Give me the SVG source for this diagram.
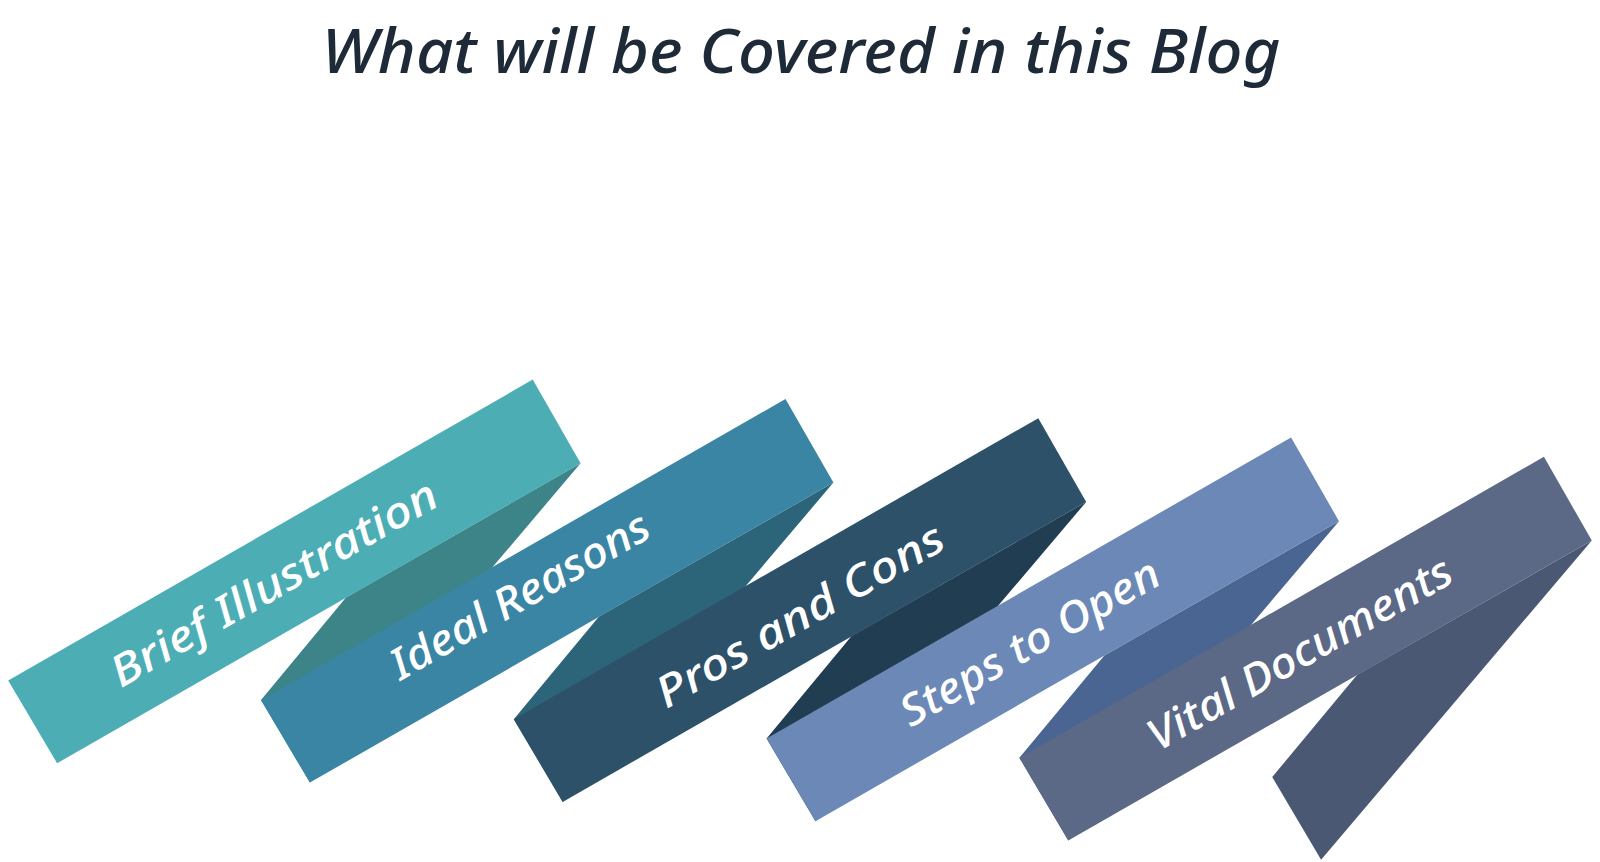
<svg xmlns="http://www.w3.org/2000/svg" width="1600" height="862" viewBox="0 0 1600 862">
<defs>
<style>
.title{font-family:"Noto Sans","DejaVu Sans",sans-serif;font-style:italic;font-weight:500;font-size:62px;fill:#1E2A38;}
.lbl{font-family:"Noto Sans","DejaVu Sans",sans-serif;font-style:italic;font-weight:500;font-size:43px;fill:#FFFFFF;text-anchor:middle;dominant-baseline:central;}
</style>
<polygon id="face" points="8.2,680.6 532.7,379.6 580.6,463.3 57.1,763.3"/>
<polygon id="tail" points="580.6,463.3 346,597.5 261,699.9 309.9,782.6"/>
</defs>
<rect width="1600" height="862" fill="#FFFFFF"/>
<text class="title" x="801" y="73" text-anchor="middle" textLength="959" lengthAdjust="spacingAndGlyphs">What will be Covered in this Blog</text>

<g id="ribbon1">
<use href="#tail" fill="#3D8489"/>
<use href="#face" fill="#4DADB5"/>
<text class="lbl" transform="translate(273,582) rotate(-29.85)" textLength="370" lengthAdjust="spacingAndGlyphs">Brief Illustration</text>
</g>
<g id="ribbon2">
<use href="#tail" fill="#2C6479" transform="translate(252.8,19.3)"/>
<use href="#face" fill="#3A85A4" transform="translate(252.8,19.3)"/>
<text class="lbl" transform="translate(519,594) rotate(-29.85)" textLength="292" lengthAdjust="spacingAndGlyphs">Ideal Reasons</text>
</g>
<g id="ribbon3">
<use href="#tail" fill="#213D51" transform="translate(505.6,38.6)"/>
<use href="#face" fill="#2D5169" transform="translate(505.6,38.6)"/>
<text class="lbl" transform="translate(799,614) rotate(-29.85)" textLength="325" lengthAdjust="spacingAndGlyphs">Pros and Cons</text>
</g>
<g id="ribbon4">
<use href="#tail" fill="#4A6592" transform="translate(758.4,57.9)"/>
<use href="#face" fill="#6B88B6" transform="translate(758.4,57.9)"/>
<text class="lbl" transform="translate(1029,641) rotate(-29.85)" textLength="292" lengthAdjust="spacingAndGlyphs">Steps to Open</text>
</g>
<g id="ribbon5">
<use href="#tail" fill="#4B5874" transform="translate(1011.2,77.2)"/>
<use href="#face" fill="#5B6886" transform="translate(1011.2,77.2)"/>
<text class="lbl" transform="translate(1299,652) rotate(-29.85)" textLength="344" lengthAdjust="spacingAndGlyphs">Vital Documents</text>
</g>
<g id="connectors"/>
</svg>
